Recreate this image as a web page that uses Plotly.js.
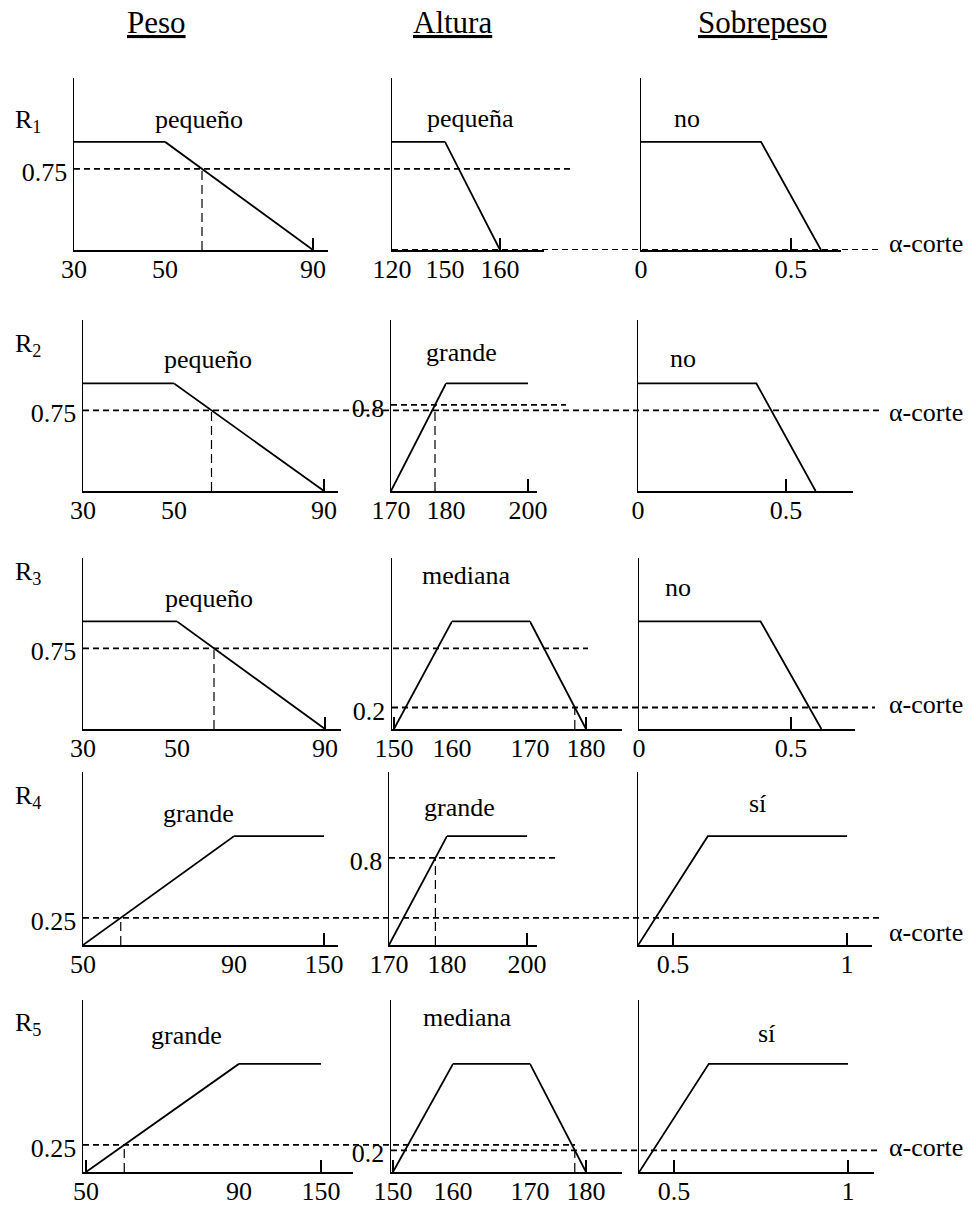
<!DOCTYPE html>
<html>
<head>
<meta charset="utf-8">
<script src="https://cdn.plot.ly/plotly-3.0.1.min.js"></script>
<style>
  html, body { margin: 0; padding: 0; background: #fff; }
  #chart { width: 976px; height: 1206px; }
</style>
</head>
<body>
<div id="chart"></div>
<script>
// Mamdani inference: Peso x Altura -> Sobrepeso, rules R1..R5

// ---- data ---------------------------------------------------------------
const reglas = ['R<sub>1</sub>', 'R<sub>2</sub>', 'R<sub>3</sub>', 'R<sub>4</sub>', 'R<sub>5</sub>'];
const variables = ['Peso', 'Altura', 'Sobrepeso'];

// membership functions: breakpoints and degree
const pesoPequenoX = [30, 50, 90];
const pesoPequenoY = [1, 1, 0];
const pesoGrandeX = [50, 90, 150];
const pesoGrandeY = [0, 1, 1];
const alturaPequenaX = [120, 150, 160];
const alturaPequenaY = [1, 1, 0];
const alturaGrandeX = [170, 180, 200];
const alturaGrandeY = [0, 1, 1];
const alturaMedianaX = [150, 160, 170, 180];
const alturaMedianaY = [0, 1, 1, 0];
const sobrepesoNoX = [0, 0.4, 0.6];
const sobrepesoNoY = [1, 1, 0];
const sobrepesoSiX = [0.4, 0.6, 1];
const sobrepesoSiY = [0, 1, 1];

// crisp inputs and the degree each antecedent reaches
const pesoEntrada = 60;
const alturaEntrada = 178;
const gradoPeso = [0.75, 0.75, 0.75, 0.25, 0.25];
const gradoAltura = [0, 0.8, 0.2, 0.8, 0.2];
const alfaCorte = [0, 0.75, 0.2, 0.25, 0.2];

// linguistic terms of every rule
const terminoPeso = ['pequeño', 'pequeño', 'pequeño', 'grande', 'grande'];
const terminoAltura = ['pequeña', 'grande', 'mediana', 'grande', 'mediana'];
const terminoSobrepeso = ['no', 'no', 'no', 'sí', 'sí'];

// tick labels of each horizontal axis
const ticksPeso = [[30, 50, 90], [30, 50, 90], [30, 50, 90], [50, 90, 150], [50, 90, 150]];
const ticksAltura = [[120, 150, 160], [170, 180, 200], [150, 160, 170, 180], [170, 180, 200], [150, 160, 170, 180]];
const ticksSobrepeso = [[0, 0.5], [0, 0.5], [0, 0.5], [0.5, 1], [0.5, 1]];

const funciones = {
  peso: { 'pequeño': [pesoPequenoX, pesoPequenoY], 'grande': [pesoGrandeX, pesoGrandeY] },
  altura: { 'pequeña': [alturaPequenaX, alturaPequenaY], 'grande': [alturaGrandeX, alturaGrandeY], 'mediana': [alturaMedianaX, alturaMedianaY] },
  sobrepeso: { 'no': [sobrepesoNoX, sobrepesoNoY], 'sí': [sobrepesoSiX, sobrepesoSiY] }
};

// ---- page geometry (pixels) ----------------------------------------------
const W = 976, H = 1206;
const FONT = "'Liberation Serif', 'Times New Roman', Times, serif";
const Y_MAX = 1.59;

// each row: pixel row of the horizontal axis, top of the vertical axis
const filaBase = [250, 491, 729, 945, 1172];
const filaTope = [78, 320, 558, 772, 1000];

// each column: vertical axis position, right end of the horizontal axis and
// where every tick sits (the sketch is not drawn to scale, so each stretch
// between two ticks gets its own axis)
const marcos = {
  peso: {
    eje: [74, 83, 83, 83, 83],
    fin: [328, 338, 341, 338, 353],
    px: [[74, 165, 313], [83, 174, 324], [83, 177, 325], [83, 234, 324], [86, 239, 321]]
  },
  altura: {
    eje: [392, 391, 392, 389, 391],
    fin: [544, 537, 622, 537, 622],
    px: [[392, 445, 500], [391, 446, 528], [394, 452, 530, 586], [389, 447, 527], [393, 453, 530, 586]]
  },
  sobrepeso: {
    eje: [641, 638, 639, 638, 639],
    fin: [841, 853, 855, 872, 874],
    px: [[641, 791], [638, 786], [639, 791], [673, 847], [674, 848]]
  }
};

// right ends of the dashed guides
const finGuiaPeso = [572, 881, 588, 881, 575];
const finGuiaAltura = [880, 566, 875, 556, 881];

// label anchors
const filaEtiquetaY = [121, 345, 573, 797, 1024];
const terminoPos = {
  peso: [[199, 119], [208, 359], [209, 598], [198, 813], [186, 1035]],
  altura: [[470, 118], [461, 353], [466, 575], [459, 807], [467, 1017]],
  sobrepeso: [[687, 118], [683, 358], [678, 587], [757, 803], [766, 1033]]
};
const alfaEtiquetaY = [244, 412, 704, 932, 1147];
const encabezadoX = [156, 452, 762];

// ---- build ---------------------------------------------------------------
const negro = '#000';
const tickFont = () => ({ family: FONT, size: 26, color: negro });
const data = [], shapes = [], annotations = [];
const layout = {
  width: W, height: H,
  margin: { l: 0, r: 0, t: 0, b: 0, pad: 0 },
  paper_bgcolor: '#fff', plot_bgcolor: 'rgba(0,0,0,0)',
  showlegend: false,
  font: { family: FONT, size: 26, color: negro },
  hovermode: false
};
let nX = 0, nY = 0;

function panel(fila, ticks, marco, fn, yTicks, entrada, grado) {
  nY++;
  const yId = nY === 1 ? 'y' : 'y' + nY;
  const yKey = nY === 1 ? 'yaxis' : 'yaxis' + nY;
  const px = marco.px[fila], eje = marco.eje[fila], fin = marco.fin[fila];
  const nSeg = ticks.length - 1;
  const segs = [];
  for (let i = 0; i < nSeg; i++) {
    nX++;
    const xId = nX === 1 ? 'x' : 'x' + nX;
    const xKey = nX === 1 ? 'xaxis' : 'xaxis' + nX;
    const a = ticks[i], b = ticks[i + 1];
    const k = (px[i + 1] - px[i]) / (b - a);
    const pl = i === 0 ? eje : px[i];
    const pr = i === nSeg - 1 ? fin : px[i + 1];
    const lo = a - (px[i] - pl) / k;
    const hi = b + (pr - px[i + 1]) / k;
    const tv = i === 0 ? [a, b] : [b];
    layout[xKey] = {
      domain: [pl / W, pr / W], range: [lo, hi], anchor: yId,
      showline: true, linewidth: 2, linecolor: negro,
      ticks: 'inside', ticklen: 12, tickwidth: 1.5, tickcolor: negro,
      tickmode: 'array', tickvals: tv, ticktext: tv.map(String),
      tickfont: tickFont(), ticklabelstandoff: -5,
      showgrid: false, zeroline: false, fixedrange: true
    };
    segs.push({ id: xId, lo: lo, hi: hi });
  }
  layout[yKey] = {
    domain: [1 - filaBase[fila] / H, 1 - filaTope[fila] / H],
    range: [0, Y_MAX], anchor: segs[0].id,
    showline: true, linewidth: 1.5, linecolor: negro,
    ticks: '', tickmode: 'array', tickvals: yTicks, ticktext: yTicks.map(String),
    tickfont: tickFont(), ticklabelshift: 3, ticklabelstandoff: 0,
    showgrid: false, zeroline: false, fixedrange: true
  };
  // membership function, split over the stretches of the axis
  const fx = fn[0], fy = fn[1];
  segs.forEach(s => {
    const xs = [], ys = [];
    fx.forEach((v, j) => {
      if (v >= s.lo - 1e-9 && v <= s.hi + 1e-9) { xs.push(v); ys.push(fy[j]); }
    });
    if (xs.length > 1) {
      data.push({
        type: 'scatter', mode: 'lines', x: xs, y: ys,
        xaxis: s.id, yaxis: yId,
        line: { color: negro, width: 1.8 }, hoverinfo: 'skip'
      });
    }
  });
  // vertical guide from the crisp input up to its degree
  if (entrada !== null && grado > 0) {
    const s = segs.find(q => entrada >= q.lo && entrada <= q.hi);
    shapes.push({
      type: 'line', xref: s.id, yref: yId,
      x0: entrada, x1: entrada, y0: 0, y1: grado,
      line: { color: negro, width: 1.2, dash: '9px,5px' }
    });
  }
  return yId;
}

function guia(yId, valor, x0, x1) {
  shapes.push({
    type: 'line', xref: 'paper', yref: yId,
    x0: x0 / W, x1: x1 / W, y0: valor, y1: valor,
    line: { color: negro, width: 1.8, dash: '6px,4px' }
  });
}

function texto(t, x, y, size, xanchor) {
  annotations.push({
    text: t, xref: 'paper', yref: 'paper', x: x / W, y: 1 - y / H,
    xanchor: xanchor || 'center', yanchor: 'middle', showarrow: false,
    font: { family: FONT, size: size, color: negro }
  });
}

for (let f = 0; f < reglas.length; f++) {
  const gp = gradoPeso[f], ga = gradoAltura[f];
  const yP = panel(f, ticksPeso[f], marcos.peso, funciones.peso[terminoPeso[f]],
    gp > 0 ? [gp] : [], pesoEntrada, gp);
  const yA = panel(f, ticksAltura[f], marcos.altura, funciones.altura[terminoAltura[f]],
    ga > 0 ? [ga] : [], alturaEntrada, ga);
  panel(f, ticksSobrepeso[f], marcos.sobrepeso, funciones.sobrepeso[terminoSobrepeso[f]],
    [], null, 0);

  guia(yP, gp, marcos.peso.eje[f], finGuiaPeso[f]);
  guia(yA, ga, marcos.altura.eje[f], finGuiaAltura[f]);

  texto(reglas[f], 13, filaEtiquetaY[f], 26, 'left');
  texto(terminoPeso[f], terminoPos.peso[f][0], terminoPos.peso[f][1], 26);
  texto(terminoAltura[f], terminoPos.altura[f][0], terminoPos.altura[f][1], 26);
  texto(terminoSobrepeso[f], terminoPos.sobrepeso[f][0], terminoPos.sobrepeso[f][1], 26);
  texto('α-corte', 887, alfaEtiquetaY[f], 26, 'left');
}
variables.forEach((v, i) => texto('<u>' + v + '</u>', encabezadoX[i], 22, 31));

layout.shapes = shapes;
layout.annotations = annotations;

Plotly.newPlot('chart', data, layout, { displayModeBar: false, staticPlot: true });
</script>
</body>
</html>
